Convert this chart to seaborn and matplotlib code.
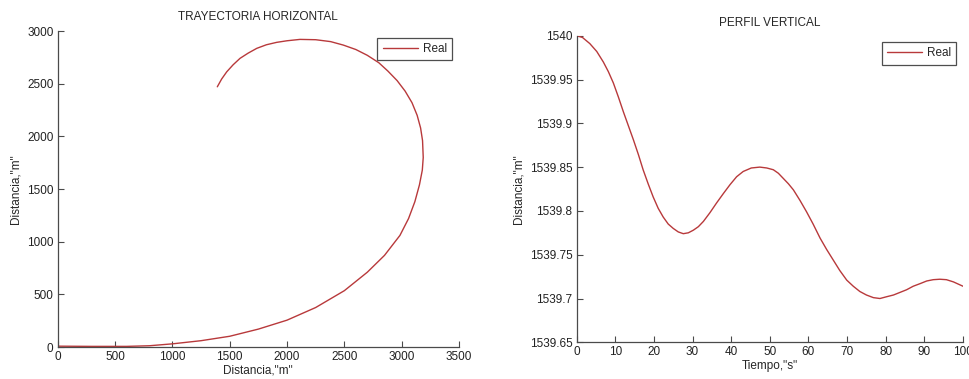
import matplotlib
matplotlib.use("Agg")
import matplotlib.pyplot as plt
import seaborn as sns
import pandas as pd

# ---- data: horizontal trajectory ----
traj_x = [0, 300, 600, 800, 1000, 1250, 1500, 1750, 2000, 2250, 2500, 2700,
          2850, 2985, 3060, 3115, 3155, 3180, 3188, 3182, 3165, 3135, 3090,
          3030, 2960, 2880, 2800, 2700, 2600, 2491, 2380, 2250, 2113, 2000,
          1910, 1820, 1736, 1660, 1590, 1530, 1474, 1430, 1392]
traj_y = [8, 6, 6, 12, 30, 60, 102, 170, 255, 375, 535, 710,
          870, 1060, 1220, 1380, 1540, 1680, 1800, 1960, 2080, 2200, 2320,
          2430, 2530, 2620, 2700, 2770, 2825, 2867, 2900, 2918, 2921, 2908,
          2893, 2870, 2836, 2790, 2741, 2680, 2613, 2545, 2471]

# ---- data: vertical profile ----
prof_t = [0, 1.5, 3.4, 5.2, 6.9, 8.2, 9.5, 10.8, 12.1, 13.4, 14.7, 16.0, 17.2,
          18.5, 19.8, 21.1, 22.4, 23.7, 25.0, 26.3, 27.6, 28.9, 30.2, 31.5,
          32.8, 34.5, 36.2, 38.0, 39.7, 41.4, 43.1, 45.2, 47.4, 49.2, 50.9,
          52.2, 53.5, 54.8, 56.1, 57.8, 59.5, 61.2, 63.0, 64.7, 66.4, 68.1,
          69.9, 71.6, 73.3, 75.0, 76.8, 78.5, 80.2, 82.0, 83.7, 85.4, 87.1,
          88.9, 90.6, 92.3, 94.0, 95.7, 97.5, 100]
prof_v = [1540.000, 1539.998, 1539.991, 1539.982, 1539.970, 1539.959, 1539.946,
          1539.930, 1539.913, 1539.897, 1539.881, 1539.864, 1539.847, 1539.831,
          1539.816, 1539.803, 1539.793, 1539.785, 1539.780, 1539.776, 1539.774,
          1539.775, 1539.778, 1539.782, 1539.788, 1539.798, 1539.809, 1539.820,
          1539.830, 1539.839, 1539.845, 1539.849, 1539.850, 1539.849, 1539.847,
          1539.843, 1539.837, 1539.831, 1539.824, 1539.812, 1539.799, 1539.785,
          1539.769, 1539.756, 1539.744, 1539.732, 1539.721, 1539.714, 1539.708,
          1539.704, 1539.701, 1539.700, 1539.702, 1539.704, 1539.707, 1539.710,
          1539.714, 1539.717, 1539.720, 1539.7215, 1539.722, 1539.7215,
          1539.719, 1539.714]

left_xticks = [0, 500, 1000, 1500, 2000, 2500, 3000, 3500]
left_yticks = [0, 500, 1000, 1500, 2000, 2500, 3000]
right_xticks = [0, 10, 20, 30, 40, 50, 60, 70, 80, 90, 100]
right_yticks = [1539.65, 1539.7, 1539.75, 1539.8, 1539.85, 1539.9, 1539.95, 1540]
right_ylabels = ["1539.65", "1539.7", "1539.75", "1539.8", "1539.85", "1539.9", "1539.95", "1540"]

sns.set_style("ticks")
plt.rcParams['font.family'] = ['Liberation Sans', 'DejaVu Sans']
plt.rcParams['font.size'] = 8.5
plt.rcParams['xtick.direction'] = 'in'
plt.rcParams['ytick.direction'] = 'in'
plt.rcParams['lines.solid_joinstyle'] = 'round'

LINE = '#b8393b'
AX = '#4a4a4a'

fig = plt.figure(figsize=(9.7, 3.79), dpi=100)
ax1 = fig.add_axes([0.0595, 0.0844, 0.4137, 0.8336])
ax2 = fig.add_axes([0.5945, 0.0968, 0.3983, 0.8090])

df1 = pd.DataFrame({"x": traj_x, "y": traj_y})
sns.lineplot(data=df1, x="x", y="y", sort=False, estimator=None, ax=ax1,
             color=LINE, linewidth=1.0, label="Real")
df2 = pd.DataFrame({"t": prof_t, "v": prof_v})
sns.lineplot(data=df2, x="t", y="v", sort=False, estimator=None, ax=ax2,
             color=LINE, linewidth=1.0, label="Real")

ax1.set_xlim(0, 3500)
ax1.set_ylim(0, 3000)
ax1.set_xticks(left_xticks)
ax1.set_yticks(left_yticks)
ax1.set_title("TRAYECTORIA HORIZONTAL", fontsize=8.5, pad=8)
ax1.set_xlabel('Distancia,"m"', fontsize=8.5, labelpad=1)
ax1.set_ylabel('Distancia,"m"', fontsize=8.5, labelpad=4)

ax2.set_xlim(0, 100)
ax2.set_ylim(1539.65, 1540)
ax2.set_xticks(right_xticks)
ax2.set_yticks(right_yticks)
ax2.set_yticklabels(right_ylabels)
ax2.set_title("PERFIL VERTICAL", fontsize=8.5, pad=7)
ax2.set_xlabel('Tiempo,"s"', fontsize=8.5, labelpad=1)
ax2.set_ylabel('Distancia,"m"', fontsize=8.5, labelpad=4)

for ax in (ax1, ax2):
    sns.despine(ax=ax)
    for s in ("left", "bottom"):
        ax.spines[s].set_color(AX)
        ax.spines[s].set_linewidth(0.9)
    ax.tick_params(colors='#222222', labelsize=8.5, length=4, width=0.8,
                   color=AX, pad=3)
    leg = ax.legend(loc='upper right', bbox_to_anchor=(0.983, 0.979),
                    borderaxespad=0, fancybox=False, frameon=True,
                    handlelength=3.0, handletextpad=0.4, borderpad=0.45,
                    fontsize=8.5)
    leg.get_frame().set_edgecolor('#222222')
    leg.get_frame().set_linewidth(0.9)

fig.savefig("out.png", dpi=100, facecolor="white")
